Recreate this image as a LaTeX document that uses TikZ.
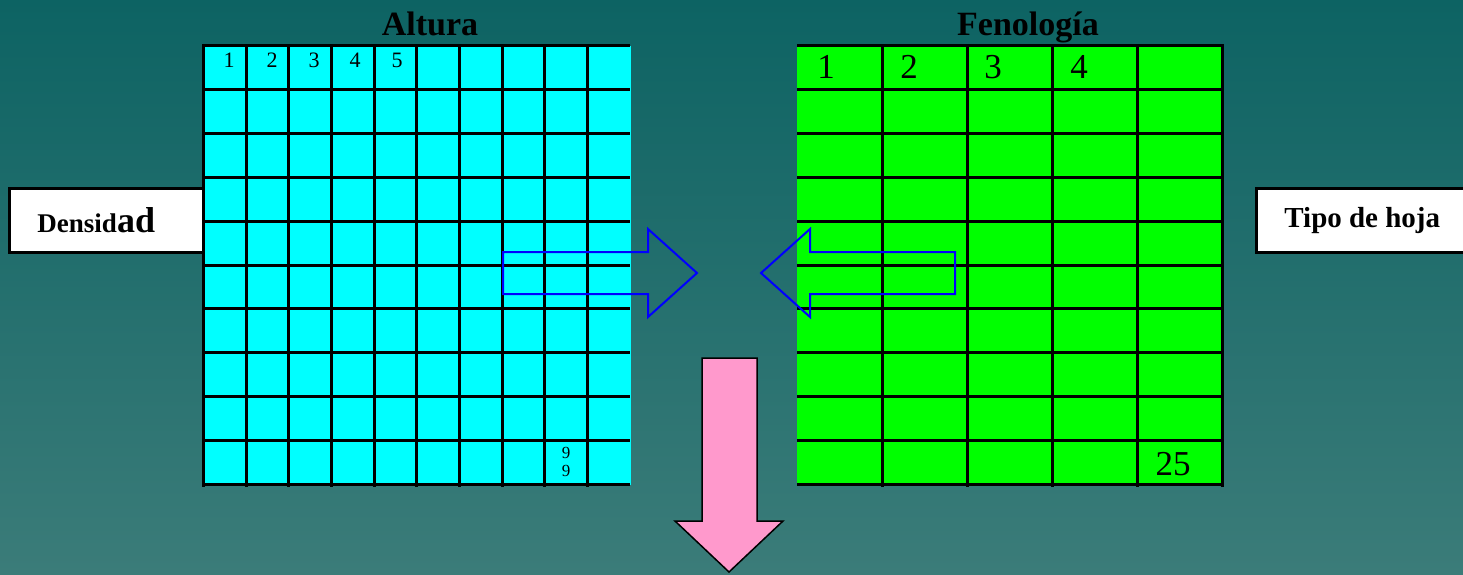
\documentclass[tikz,border=0pt]{standalone}
\usepackage{fontspec}
\setmainfont{Liberation Serif}
\definecolor{bgtop}{RGB}{13,99,99}
\definecolor{bgbot}{RGB}{59,124,121}
\definecolor{cellcyan}{RGB}{0,255,255}
\definecolor{cellgreen}{RGB}{0,255,0}
\definecolor{arrowpink}{RGB}{255,153,204}
\tikzset{
  gridline/.style={black, line width=3pt},
  labelbox/.style={draw=black, line width=2.5pt, fill=white, inner sep=0pt},
  outlinearrow/.style={draw=blue, line width=2pt, line join=miter},
  pinkarrow/.style={draw=black, fill=arrowpink, line width=1.5pt, line join=miter},
  title/.style={font=\fontsize{34}{40}\selectfont\bfseries, anchor=base, inner sep=0pt},
  cnum/.style={font=\fontsize{22}{24}\selectfont, anchor=base, inner sep=0pt},
  gnum/.style={font=\fontsize{35}{38}\selectfont, anchor=base, inner sep=0pt},
}
\begin{document}
\begin{tikzpicture}[x=1pt,y=-1pt]
\useasboundingbox (0,0) rectangle (1463,574);
\shade[top color=bgtop, bottom color=bgbot] (0,0) rectangle (1463,574);

% titles
\node[title] (altura) at (430,35) {Altura};
\node[title] (fenologia) at (1028,35) {Fenología};

% cyan grid 10x10
\fill[cellcyan] (203.5,45.5) rectangle (631,485);
\foreach \i in {0,...,10} {
  \draw[gridline] (203.5,{45.5+43.9*\i}) -- (630,{45.5+43.9*\i});
}
\foreach \j in {0,...,9} {
  \draw[gridline] ({203.5+42.65*\j},44) -- ({203.5+42.65*\j},486.5);
}

% green grid 5x10
\fill[cellgreen] (797,45.5) rectangle (1222,485);
\foreach \i in {0,...,10} {
  \draw[gridline] (797,{45.5+43.9*\i}) -- (1223.5,{45.5+43.9*\i});
}
\foreach \j in {1,...,5} {
  \draw[gridline] ({797+85*\j},44) -- ({797+85*\j},486.5);
}

% cyan numbers
\node[cnum] (c1) at (229,67) {1};
\node[cnum] (c2) at (272,67) {2};
\node[cnum] (c3) at (314,67) {3};
\node[cnum] (c4) at (355,67) {4};
\node[cnum] (c5) at (397,67) {5};
\node[font=\fontsize{17}{21}\selectfont, align=center, inner sep=0pt] (c99) at (566,462) {9\\[-3pt]9};

% green numbers
\node[gnum] (g1) at (826,78) {1};
\node[gnum] (g2) at (909,78) {2};
\node[gnum] (g3) at (993,78) {3};
\node[gnum] (g4) at (1079,78) {4};
\node[gnum] (g25) at (1173,475) {25};

% side boxes
\node[labelbox, minimum width=194pt, minimum height=64pt, anchor=north west] (densidad) at (8,187)
  {\bfseries{\fontsize{27}{30}\selectfont Densid}{\fontsize{36}{40}\selectfont ad}\hspace*{20pt}};
\node[labelbox, minimum width=218pt, minimum height=64pt, anchor=north west] (tipo) at (1255,187)
  {\bfseries\fontsize{29}{32}\selectfont Tipo de hoja\hspace*{6pt}};

% blue outline arrows
\draw[outlinearrow] (503,252) -- (648,252) -- (648,229) -- (697,273) -- (648,317) -- (648,294) -- (503,294) -- cycle;
\draw[outlinearrow] (955,252) -- (810,252) -- (810,229) -- (761,273) -- (810,317) -- (810,294) -- (955,294) -- cycle;

% pink down arrow
\draw[pinkarrow] (702,358) -- (757,358) -- (757,521) -- (783,521) -- (729,572) -- (675,521) -- (702,521) -- cycle;
\end{tikzpicture}
\end{document}
